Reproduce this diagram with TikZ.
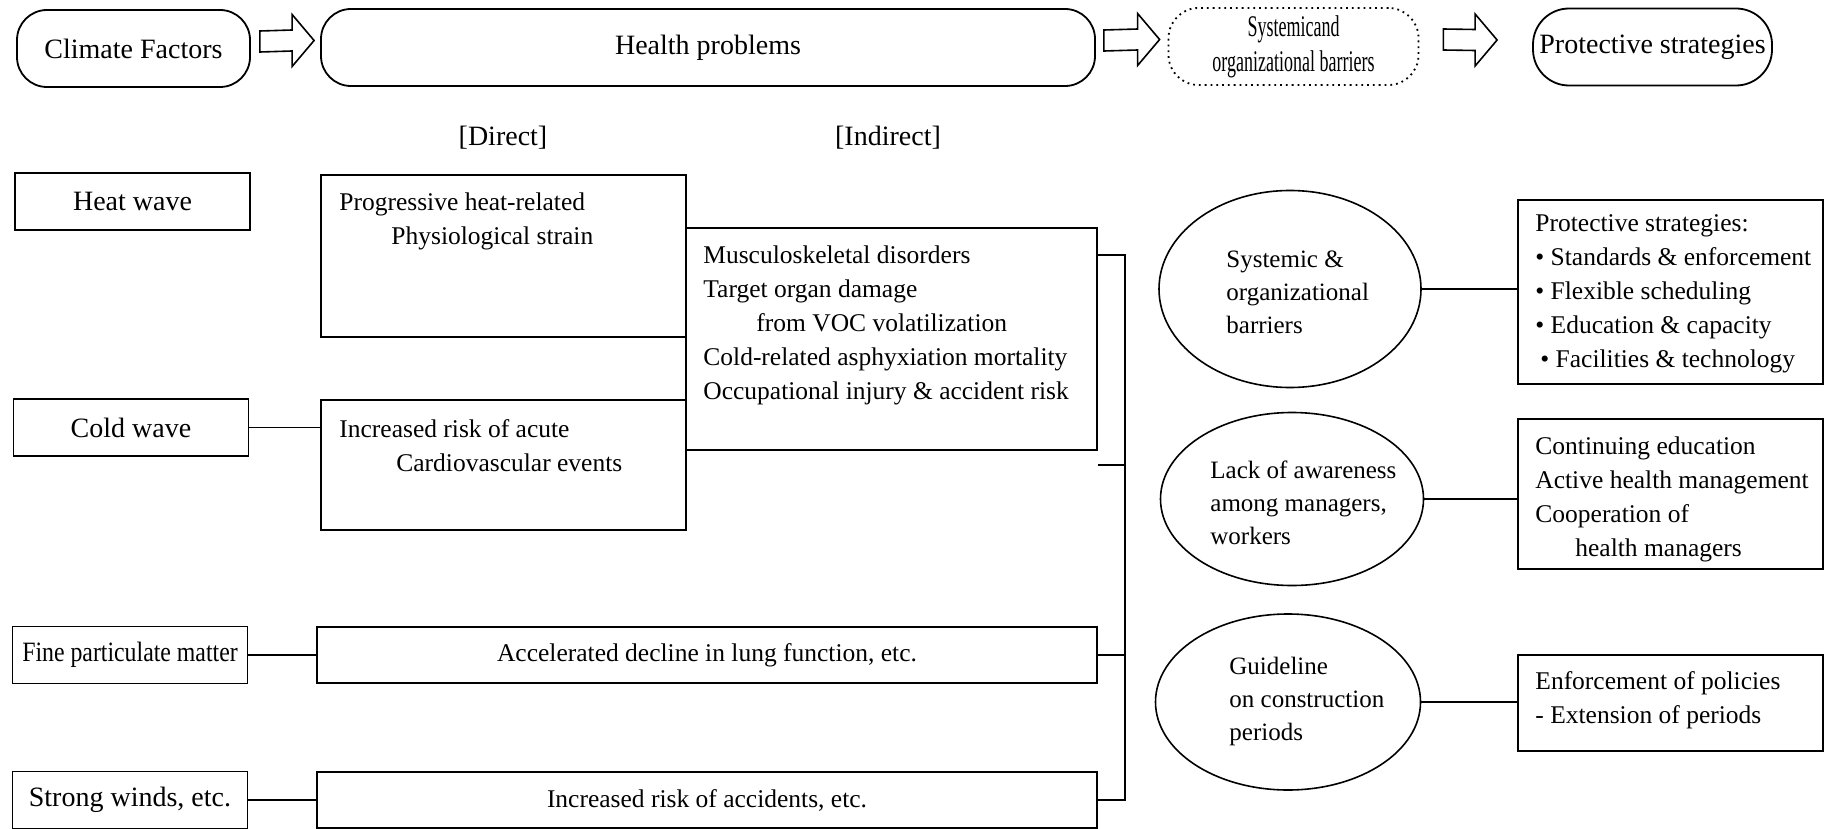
\documentclass[tikz,border=0pt]{standalone}
\usepackage{fontspec}
\setmainfont{Liberation Serif}
\usetikzlibrary{calc,shapes.geometric}

\tikzstyle{pill} = [draw, line width=0.9pt, rounded corners=15pt, minimum height=38.5pt, inner sep=0pt, font=\fontsize{14pt}{17.5pt}\selectfont]
\tikzstyle{cause} = [draw, line width=0.9pt, minimum width=117.5pt, minimum height=28.5pt, inner sep=0pt, font=\fontsize{14pt}{17pt}\selectfont]
\tikzstyle{effect} = [draw, line width=0.9pt, inner sep=0pt, font=\fontsize{12.75pt}{17pt}\selectfont]
\tikzstyle{boxtext} = [anchor=west, align=left, inner sep=0pt, font=\fontsize{12.75pt}{17pt}\selectfont]
\tikzstyle{oval} = [draw, ellipse, line width=0.8pt, inner sep=0pt]
\tikzstyle{ovaltext} = [anchor=west, align=left, inner sep=0pt, font=\fontsize{12.5pt}{16.5pt}\selectfont]
\tikzstyle{tag} = [inner sep=0pt, font=\fontsize{14pt}{17pt}\selectfont]
\tikzstyle{link} = [line width=0.8pt]
\tikzstyle{hollow} = [draw, line width=0.8pt, fill=white]

% outlined block arrow from #1 (tail) to #2 (tip)
\newcommand{\hollowarrow}[2]{%
  \draw[hollow] ($(#1)+(0,-10.5)$) -- ($(#2)+(-22,-10.5)$) -- ($(#2)+(-22,-26)$)
    -- (#2) -- ($(#2)+(-22,26)$) -- ($(#2)+(-22,10.5)$) -- ($(#1)+(0,10.5)$) -- cycle;}

\begin{document}
\begin{tikzpicture}[x=0.5pt,y=-0.5pt]
		\useasboundingbox (0,0) rectangle (1825,829);

		% top row
		\node[pill, minimum width=116.5pt] (cf) at (133.5,48.5) {Climate Factors};
		\node[pill, minimum width=387pt] (hp) at (708,47.5) {Health problems};
		\node[pill, dotted, minimum width=125pt, align=center, font=\fontsize{15pt}{17.5pt}\selectfont] (sb) at (1293.5,46.5) {\scalebox{0.6}[1]{Systemicand}\\\scalebox{0.6}[1]{organizational barriers}};
		\node[pill, rounded corners=18pt, minimum width=119.5pt] (ps) at (1652.5,47) {Protective strategies};

		\coordinate (a1s) at ([xshift=4.5pt,yshift=3.5pt]cf.east);
		\coordinate (a1e) at ([xshift=-3pt,yshift=3.5pt]hp.west);
		\coordinate (a2s) at ([xshift=4pt,yshift=3.5pt]hp.east);
		\coordinate (a2e) at ([xshift=-4pt,yshift=3.5pt]sb.west);
		\coordinate (a3s) at ([xshift=12pt,yshift=3.5pt]sb.east);
		\coordinate (a3e) at ([xshift=-17.5pt,yshift=3.5pt]ps.west);
		\hollowarrow{a1s}{a1e}
		\hollowarrow{a2s}{a2e}
		\hollowarrow{a3s}{a3e}

		\node[tag] (direct) at (503,138) {[Direct]};
		\node[tag] (indirect) at (888,138) {[Indirect]};

		% climate factors
		\node[cause] (hw) at (132.5,201.5) {Heat wave};
		\node[cause] (cw) at (131,427.5) {Cold wave};
		\node[cause] (fp) at (130,655) {\scalebox{0.85}[1]{Fine particulate matter}};
		\node[cause] (sw) at (130,800) {Strong winds, etc.};

		% health problems
		\node[effect, minimum width=182.5pt, minimum height=81pt] (pr) at (503.5,256) {};
		\node[effect, minimum width=182.5pt, minimum height=65pt] (ir) at (503.5,465) {};
		\node[effect, minimum width=205.5pt, minimum height=111pt] (ms) at (891.5,339) {};
		\node[effect, minimum width=390pt, minimum height=28pt] (ad) at (707,655) {Accelerated decline in lung function, etc.};
		\node[effect, minimum width=390pt, minimum height=28pt] (ra) at (707,800) {Increased risk of accidents, etc.};

		\node[boxtext] (prt) at (339,221.5) {Progressive heat-related\\\hspace*{26pt}Physiological strain};
		\node[boxtext] (irt) at (339,445.5) {Increased risk of acute\\\hspace*{28.5pt}Cardiovascular events};
		\node[boxtext] (mst) at (703,325) {Musculoskeletal disorders\\Target organ damage\\\hspace*{26.5pt}from VOC volatilization\\Cold-related asphyxiation mortality\\Occupational injury \& accident risk};

		% barriers
		\node[oval, minimum width=131pt, minimum height=98.5pt] (e1) at (1290,289) {};
		\node[oval, minimum width=131.5pt, minimum height=86.5pt] (e2) at (1292,499) {};
		\node[oval, minimum width=132.5pt, minimum height=88pt] (e3) at (1288,702) {};
		\node[ovaltext] (e1t) at (1226,292) {Systemic \&\\organizational\\barriers};
		\node[ovaltext] (e2t) at (1210,503) {Lack of awareness\\among managers,\\workers};
		\node[ovaltext] (e3t) at (1229,701) {Guideline\\on construction\\periods};

		% strategies
		\node[effect, minimum width=152.5pt, minimum height=92pt] (b1) at (1670.5,292) {};
		\node[effect, minimum width=152.5pt, minimum height=75pt] (b2) at (1670.5,494) {};
		\node[effect, minimum width=152.5pt, minimum height=48pt] (b3) at (1670.5,703) {};
		\node[boxtext] (b1t) at (1535,294) {Protective strategies:\\• Standards \& enforcement\\• Flexible scheduling\\• Education \& capacity\\\hspace*{2.5pt}• Facilities \& technology};
		\node[boxtext] (b2t) at (1535,499) {Continuing education\\Active health management\\Cooperation of\\\hspace*{20pt}health managers};
		\node[boxtext] (b3t) at (1535,700) {Enforcement of policies\\- Extension of periods};

		% connectors
		\coordinate (jtop) at (1125,255);
		\coordinate (jbot) at (1125,800);
		\draw[link] (cw.east) -- (cw.east -| ir.west);
		\draw[link] (fp) -- (ad);
		\draw[link] (sw) -- (ra);
		\draw[link] (ms.east |- jtop) -- (jtop) -- (jbot) -- (ra.east);
		\draw[link] (ms.east |- ir.east) -- (ir.east -| jtop);
		\draw[link] (ad.east) -- (ad.east -| jtop);
		\draw[link] (e1.east) -- (e1.east -| b1.west);
		\draw[link] (e2.east) -- (e2.east -| b2.west);
		\draw[link] (e3.east) -- (e3.east -| b3.west);
\end{tikzpicture}
\end{document}
